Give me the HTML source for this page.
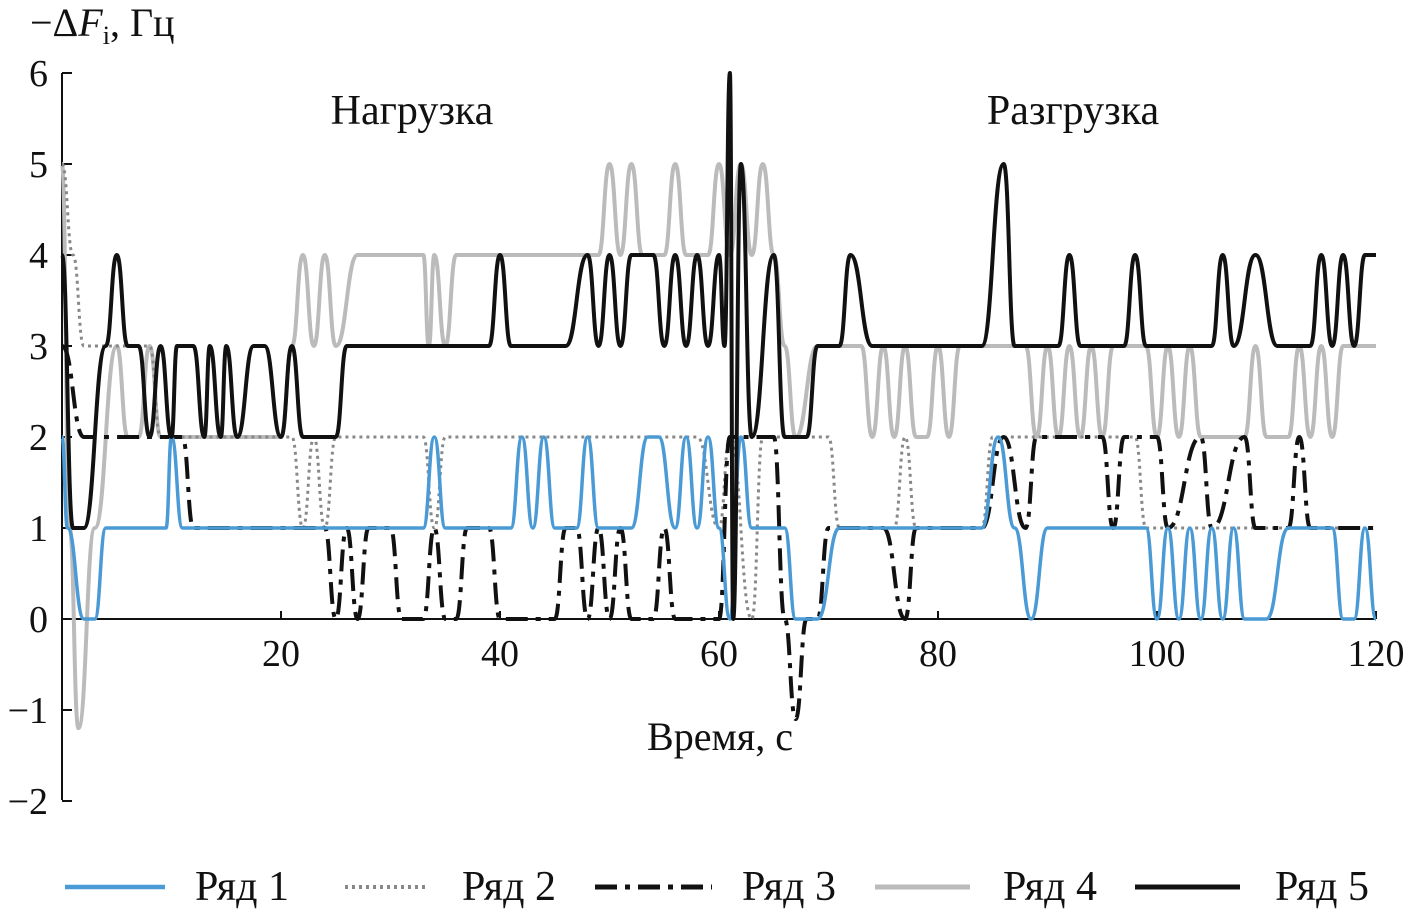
<!DOCTYPE html>
<html><head><meta charset="utf-8"><style>
body{margin:0;background:#fff}
svg{display:block}
text{font-family:"Liberation Serif",serif;fill:#111}
</style></head><body>
<svg id="c" width="1407" height="915">
<g id="axes"></g>
<g id="series"></g>
<text x="30" y="36" font-size="40">−Δ<tspan font-style="italic">F</tspan><tspan font-size="26" dy="8">i</tspan><tspan dy="-8">, Гц</tspan></text>
<text x="720" y="750" font-size="40" text-anchor="middle">Время, с</text>
<text x="412" y="124" font-size="42" text-anchor="middle">Нагрузка</text>
<text x="1073" y="124" font-size="42" text-anchor="middle">Разгрузка</text>
<g id="legend"></g>
</svg>
<script>
const yTicks=[-2,-1,0,1,2,3,4,5,6];
const xTicks=[20,40,60,80,100,120];
const seriesNames=["Ряд 1","Ряд 2","Ряд 3","Ряд 4","Ряд 5"];
const s1t=[0,0.5,2,3,4,9.5,10,11,33,34,35,41,42,43,44,45,47,48,49,52,53.5,54.5,56,57,58,59,60,61,62,63,64,66,67,69,71,84,85.5,87,88.5,90,99,100,101,102,103,104,105,106,107,108,110,112,116,117,118,119,120];
const s1v=[2,1,0,0,1,1,2,1,1,2,1,1,2,1,2,1,1,2,1,1,2,2,1,2,1,2,1,0,2,1,1,1,0,0,1,1,2,1,0,1,1,0,1,0,1,0,1,0,1,0,0,1,1,0,0,1,0];
const s2t=[0,1,2,8,9,21,22,23,24,25,33,34,35,58,60,61,63,64,70,71,76,77,78,84,85,98,99,120];
const s2v=[5,4,3,3,2,2,1,2,1,2,2,1,2,2,1,2,0,2,2,1,1,2,1,1,2,2,1,1];
const s3t=[0,2,5,10,11,12,24,25,26,27,28,30,31,33,34,35,36,37,39,40,45,46,47,48,49,50,51,52,54,55,56,60,61,65,66,67,68,69,70,75,77,78,84,86,88,89,95,96,97,100,101,104,105,108,109,112,113,114,120];
const s3v=[3,2,2,2,2,1,1,0,1,0,1,1,0,0,1,0,0,1,1,0,0,1,1,0,1,0,1,0,0,1,0,0,2,2,0,-1.1,0,0,1,1,0,1,1,2,1,2,2,1,2,2,1,2,1,2,1,1,2,1,1];
const s4t=[0,0.7,1.5,3,5,6,7,8,9,20,21,22,23,24,25,27,33,33.5,34,35,36,49,50,51,52,53,55,56,57,59,60,61,62,63,64,65,66,67,69,73,74,75,76,77,78,79,80,81,82,88,89,90,91,92,93,94,95,96,99,100,101,102,103,104,108,109,110,112,113,114,115,116,117,120];
const s4v=[5,1,-1.2,1,3,2,2,3,2,2,3,4,3,4,3,4,4,3,4,3,4,4,5,4,5,4,4,5,4,4,5,4,5,4,5,4,3,2,3,3,2,3,2,3,2,2,3,2,3,3,2,3,2,3,2,3,2,3,3,2,3,2,3,2,2,3,2,2,3,2,3,2,3,3];
const s5t=[0,1,2,4,5,6,7,8,9,10,10.5,12,13,13.5,14.5,15,16,17.5,18.5,20,21,22,25,26,39,40,41,46,48,49,50,51,52,54,55,56,57,58,59,60,60.5,61,61.3,62,63,65,66,68,69,71,72,74,84,86,87,91,92,93,97,98,99,105,106,107,109,111,114,115,116,117,118,119,120];
const s5v=[4,1,1,3,4,3,3,2,3,2,3,3,2,3,2,3,2,3,3,2,3,2,2,3,3,4,3,3,4,3,4,3,4,4,3,4,3,4,3,4,3,6,0,5,2,4,2,2,3,3,4,3,3,5,3,3,4,3,3,4,3,3,4,3,4,3,3,4,3,4,3,4,4];
const X=t=>62+t*10.95, Y=v=>619-v*91;
const NS="http://www.w3.org/2000/svg";
function mk(tag,attrs,parent){const e=document.createElementNS(NS,tag);for(const k in attrs)e.setAttribute(k,attrs[k]);parent.appendChild(e);return e;}
const ax=document.getElementById('axes');
let l=mk('line',{x1:62,y1:73,x2:62,y2:800,stroke:'#111','stroke-width':2},ax);


l=mk('line',{x1:62,y1:Y(0),x2:X(120),y2:Y(0),stroke:'#111','stroke-width':2},ax);


yTicks.forEach(v=>{
 const t=mk('line',{x1:62,y1:Y(v),x2:72,y2:Y(v),stroke:'#111','stroke-width':2},ax);
 
 
 const tx=mk('text',{x:48,y:Y(v)+13,'font-size':38,'text-anchor':'end'},ax);
 tx.textContent=v<0?'−'+(-v):String(v);
 
 
});
xTicks.forEach(v=>{
 const t=mk('line',{x1:X(v),y1:Y(0),x2:X(v),y2:Y(0)-8,stroke:'#111','stroke-width':2},ax);
 
 
 const tx=mk('text',{x:X(v),y:666,'font-size':38,'text-anchor':'middle'},ax);
 tx.textContent=String(v);
 
 
});
const styles=[
 {stroke:'#4a9ad6',w:3.5,dash:''},
 {stroke:'#888',w:3,dash:'3 4'},
 {stroke:'#111',w:4,dash:'22 8 5 8'},
 {stroke:'#bbb',w:4,dash:''},
 {stroke:'#111',w:4,dash:''}];
const data=[[s1t,s1v],[s2t,s2v],[s3t,s3v],[s4t,s4v],[s5t,s5v]];
const order=[3,1,2,0,4];
const sg=document.getElementById('series');
order.forEach(i=>{
 const [ts,vs]=data[i];const st=styles[i];
 let d='M'+X(ts[0]).toFixed(1)+','+Y(vs[0]).toFixed(1);
 for(let j=1;j<ts.length;j++){
  const x0=X(ts[j-1]),x1=X(ts[j]),y0=Y(vs[j-1]),y1=Y(vs[j]),m=(x0+x1)/2;
  d+=' C'+m.toFixed(1)+','+y0.toFixed(1)+' '+m.toFixed(1)+','+y1.toFixed(1)+' '+x1.toFixed(1)+','+y1.toFixed(1);
 }
 const p=mk('path',{d:d,fill:'none',stroke:st.stroke,'stroke-width':st.w,'stroke-dasharray':st.dash,'stroke-linejoin':'round'},sg);
 
 
});
const lg=document.getElementById('legend');
const lx=[[65,165,195],[345,425,462],[595,712,742],[875,970,1003],[1135,1240,1275]];
seriesNames.forEach((n,i)=>{
 const st=styles[i];
 const ln=mk('line',{x1:lx[i][0],y1:887,x2:lx[i][1],y2:887,stroke:st.stroke,'stroke-width':st.w+1,'stroke-dasharray':st.dash},lg);
 
 
 const tx=mk('text',{x:lx[i][2],y:900,'font-size':42},lg);
 tx.textContent=n;
 
 
});
</script>
</body></html>
